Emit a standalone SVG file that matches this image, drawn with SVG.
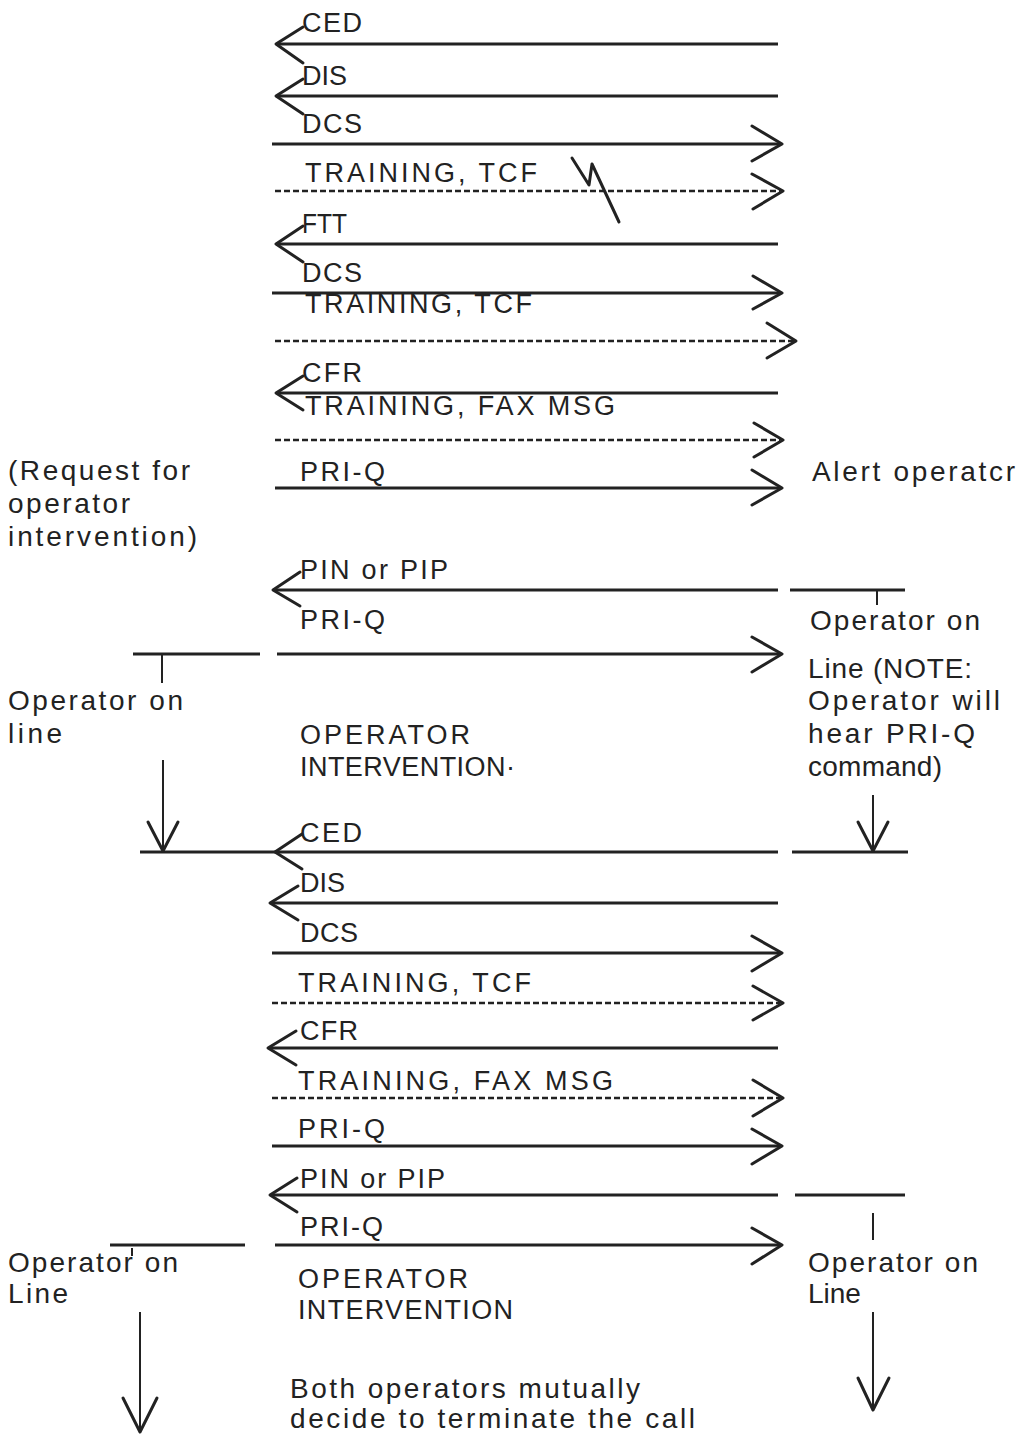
<svg xmlns="http://www.w3.org/2000/svg" width="1022" height="1435" viewBox="0 0 1022 1435">
<style>
.bg{fill:#fff}
.s{stroke:#222;stroke-width:3;fill:none}
.d{stroke:#222;stroke-width:2.5;stroke-dasharray:6 3;fill:none}
.h{stroke:#222;stroke-width:3;fill:none;stroke-linecap:round;stroke-linejoin:round}
.t{stroke:#222;stroke-width:2;fill:none}
.c{font-family:"Liberation Sans",Arial,sans-serif;font-size:27px;fill:#222}
.l{font-family:"Liberation Sans",Arial,sans-serif;font-size:28px;fill:#222}
</style>
<rect class="bg" x="0" y="0" width="1022" height="1435"/>
<g id="connectors">
  <line class="s" x1="277" y1="44" x2="778" y2="44"/><path class="h" d="M303,27 L276,44 L303,63"/>
  <line class="s" x1="277" y1="96" x2="778" y2="96"/><path class="h" d="M303,79 L276,96 L303,114"/>
  <line class="s" x1="272" y1="144" x2="780" y2="144"/><path class="h" d="M752,126 L782,144 L752,161"/>
  <line class="d" x1="275" y1="191" x2="780" y2="191"/><path class="h" d="M752,174 L783,191 L753,209"/>
  <polyline class="h" points="572,158 589,185 592,164 619,222"/>
  <line class="s" x1="277" y1="244" x2="778" y2="244"/><path class="h" d="M303,226 L276,244 L303,262"/>
  <line class="s" x1="272" y1="293" x2="780" y2="293"/><path class="h" d="M753,276 L782,293 L753,309"/>
  <line class="d" x1="275" y1="341" x2="793" y2="341"/><path class="h" d="M767,323 L796,341 L767,358"/>
  <line class="s" x1="277" y1="393" x2="778" y2="393"/><path class="h" d="M303,376 L276,393 L303,410"/>
  <line class="d" x1="275" y1="440" x2="780" y2="440"/><path class="h" d="M754,423 L783,440 L754,457"/>
  <line class="s" x1="275" y1="488" x2="780" y2="488"/><path class="h" d="M752,470 L782,488 L752,505"/>
  <line class="s" x1="275" y1="590" x2="778" y2="590"/><path class="h" d="M300,572 L273,590 L300,606"/>
  <line class="s" x1="790" y1="590" x2="905" y2="590"/><line class="t" x1="877" y1="590" x2="877" y2="605"/>
  <line class="s" x1="277" y1="654" x2="780" y2="654"/><path class="h" d="M752,637 L782,654 L752,672"/>
  <line class="s" x1="133" y1="654" x2="260" y2="654"/><line class="t" x1="162" y1="654" x2="162" y2="683"/>
  <line class="t" x1="163" y1="760" x2="163" y2="850"/><path class="h" d="M148,822 L163,851 L178,822"/>
  <line class="t" x1="873" y1="795" x2="873" y2="850"/><path class="h" d="M858,822 L873,851 L888,822"/>
  <line class="s" x1="140" y1="852" x2="778" y2="852"/><path class="h" d="M302,834 L275,852 L302,869"/>
  <line class="s" x1="792" y1="852" x2="908" y2="852"/>
  <line class="s" x1="272" y1="903" x2="778" y2="903"/><path class="h" d="M298,886 L270,903 L298,920"/>
  <line class="s" x1="272" y1="953" x2="780" y2="953"/><path class="h" d="M752,936 L782,953 L752,971"/>
  <line class="d" x1="272" y1="1003" x2="780" y2="1003"/><path class="h" d="M753,986 L783,1003 L753,1020"/>
  <line class="s" x1="270" y1="1048" x2="778" y2="1048"/><path class="h" d="M296,1031 L268,1048 L296,1065"/>
  <line class="d" x1="272" y1="1098" x2="780" y2="1098"/><path class="h" d="M753,1080 L783,1098 L753,1116"/>
  <line class="s" x1="272" y1="1146" x2="780" y2="1146"/><path class="h" d="M752,1129 L782,1146 L752,1164"/>
  <line class="s" x1="272" y1="1195" x2="778" y2="1195"/><path class="h" d="M297,1178 L270,1195 L297,1212"/>
  <line class="s" x1="795" y1="1195" x2="905" y2="1195"/><line class="t" x1="873" y1="1213" x2="873" y2="1240"/>
  <line class="s" x1="275" y1="1245" x2="780" y2="1245"/><path class="h" d="M752,1228 L782,1245 L752,1264"/>
  <line class="s" x1="110" y1="1245" x2="245" y2="1245"/><line class="t" x1="132" y1="1248" x2="132" y2="1256"/>
  <line class="t" x1="140" y1="1312" x2="140" y2="1430"/><path class="h" d="M123,1398 L140,1432 L157,1398"/>
  <line class="t" x1="873" y1="1312" x2="873" y2="1408"/><path class="h" d="M858,1378 L873,1410 L889,1378"/>
</g>
<g id="n-ced1"><text class="c" x="302" y="32" textLength="60" lengthAdjust="spacing">CED</text></g>
<g id="n-dis1"><text class="c" x="302" y="85">DIS</text></g>
<g id="n-dcs1"><text class="c" x="302" y="133" textLength="60" lengthAdjust="spacing">DCS</text></g>
<g id="n-tcf1"><text class="c" x="305" y="182" textLength="232" lengthAdjust="spacing">TRAINING, TCF</text></g>
<g id="n-ftt"><text class="c" x="302" y="233" textLength="45" lengthAdjust="spacingAndGlyphs">FTT</text></g>
<g id="n-dcs2"><text class="c" x="302" y="282" textLength="60" lengthAdjust="spacing">DCS</text></g>
<g id="n-tcf2"><text class="c" x="305" y="313" textLength="227" lengthAdjust="spacing">TRAINING, TCF</text></g>
<g id="n-cfr1"><text class="c" x="302" y="382" textLength="60" lengthAdjust="spacing">CFR</text></g>
<g id="n-fax1"><text class="c" x="305" y="415" textLength="310" lengthAdjust="spacing">TRAINING, FAX MSG</text></g>
<g id="n-priq1"><text class="c" x="300" y="481" textLength="85" lengthAdjust="spacing">PRI-Q</text></g>
<g id="n-alert"><text class="l" x="812" y="481" textLength="203" lengthAdjust="spacing">Alert operatcr</text></g>
<g id="n-request">
  <text class="l" x="8" y="480" textLength="182" lengthAdjust="spacing">(Request for</text>
  <text class="l" x="8" y="513" textLength="122" lengthAdjust="spacing">operator</text>
  <text class="l" x="8" y="546" textLength="189" lengthAdjust="spacing">intervention)</text>
</g>
<g id="n-pin1"><text class="c" x="300" y="579" textLength="148" lengthAdjust="spacing">PIN or PIP</text></g>
<g id="n-priq2"><text class="c" x="300" y="629" textLength="85" lengthAdjust="spacing">PRI-Q</text></g>
<g id="n-opright1">
  <text class="l" x="810" y="630" textLength="170" lengthAdjust="spacing">Operator on</text>
  <text class="l" x="808" y="678" textLength="164" lengthAdjust="spacing">Line (NOTE:</text>
  <text class="l" x="808" y="710" textLength="192" lengthAdjust="spacing">Operator will</text>
  <text class="l" x="808" y="743" textLength="167" lengthAdjust="spacing">hear PRI-Q</text>
  <text class="l" x="808" y="776" textLength="134" lengthAdjust="spacing">command)</text>
</g>
<g id="n-opleft1">
  <text class="l" x="8" y="710" textLength="175" lengthAdjust="spacing">Operator on</text>
  <text class="l" x="8" y="743" textLength="54" lengthAdjust="spacing">line</text>
</g>
<g id="n-intervention1">
  <text class="c" x="300" y="744" textLength="170" lengthAdjust="spacing">OPERATOR</text>
  <text class="c" x="300" y="776" textLength="215" lengthAdjust="spacing">INTERVENTION·</text>
</g>
<g id="n-ced2"><text class="c" x="300" y="842" textLength="62" lengthAdjust="spacing">CED</text></g>
<g id="n-dis2"><text class="c" x="300" y="892">DIS</text></g>
<g id="n-dcs3"><text class="c" x="300" y="942" textLength="58" lengthAdjust="spacing">DCS</text></g>
<g id="n-tcf3"><text class="c" x="298" y="992" textLength="233" lengthAdjust="spacing">TRAINING, TCF</text></g>
<g id="n-cfr2"><text class="c" x="300" y="1040" textLength="58" lengthAdjust="spacing">CFR</text></g>
<g id="n-fax2"><text class="c" x="298" y="1090" textLength="315" lengthAdjust="spacing">TRAINING, FAX MSG</text></g>
<g id="n-priq3"><text class="c" x="298" y="1138" textLength="87" lengthAdjust="spacing">PRI-Q</text></g>
<g id="n-pin2"><text class="c" x="300" y="1188" textLength="145" lengthAdjust="spacing">PIN or PIP</text></g>
<g id="n-priq4"><text class="c" x="300" y="1236" textLength="83" lengthAdjust="spacing">PRI-Q</text></g>
<g id="n-opleft2">
  <text class="l" x="8" y="1272" textLength="170" lengthAdjust="spacing">Operator on</text>
  <text class="l" x="8" y="1303" textLength="60" lengthAdjust="spacing">Line</text>
</g>
<g id="n-intervention2">
  <text class="c" x="298" y="1288" textLength="170" lengthAdjust="spacing">OPERATOR</text>
  <text class="c" x="298" y="1319" textLength="215" lengthAdjust="spacing">INTERVENTION</text>
</g>
<g id="n-opright2">
  <text class="l" x="808" y="1272" textLength="170" lengthAdjust="spacing">Operator on</text>
  <text class="l" x="808" y="1303">Line</text>
</g>
<g id="n-terminate">
  <text class="l" x="290" y="1398" textLength="350" lengthAdjust="spacing">Both operators mutually</text>
  <text class="l" x="290" y="1428" textLength="405" lengthAdjust="spacing">decide to terminate the call</text>
</g>
</svg>
